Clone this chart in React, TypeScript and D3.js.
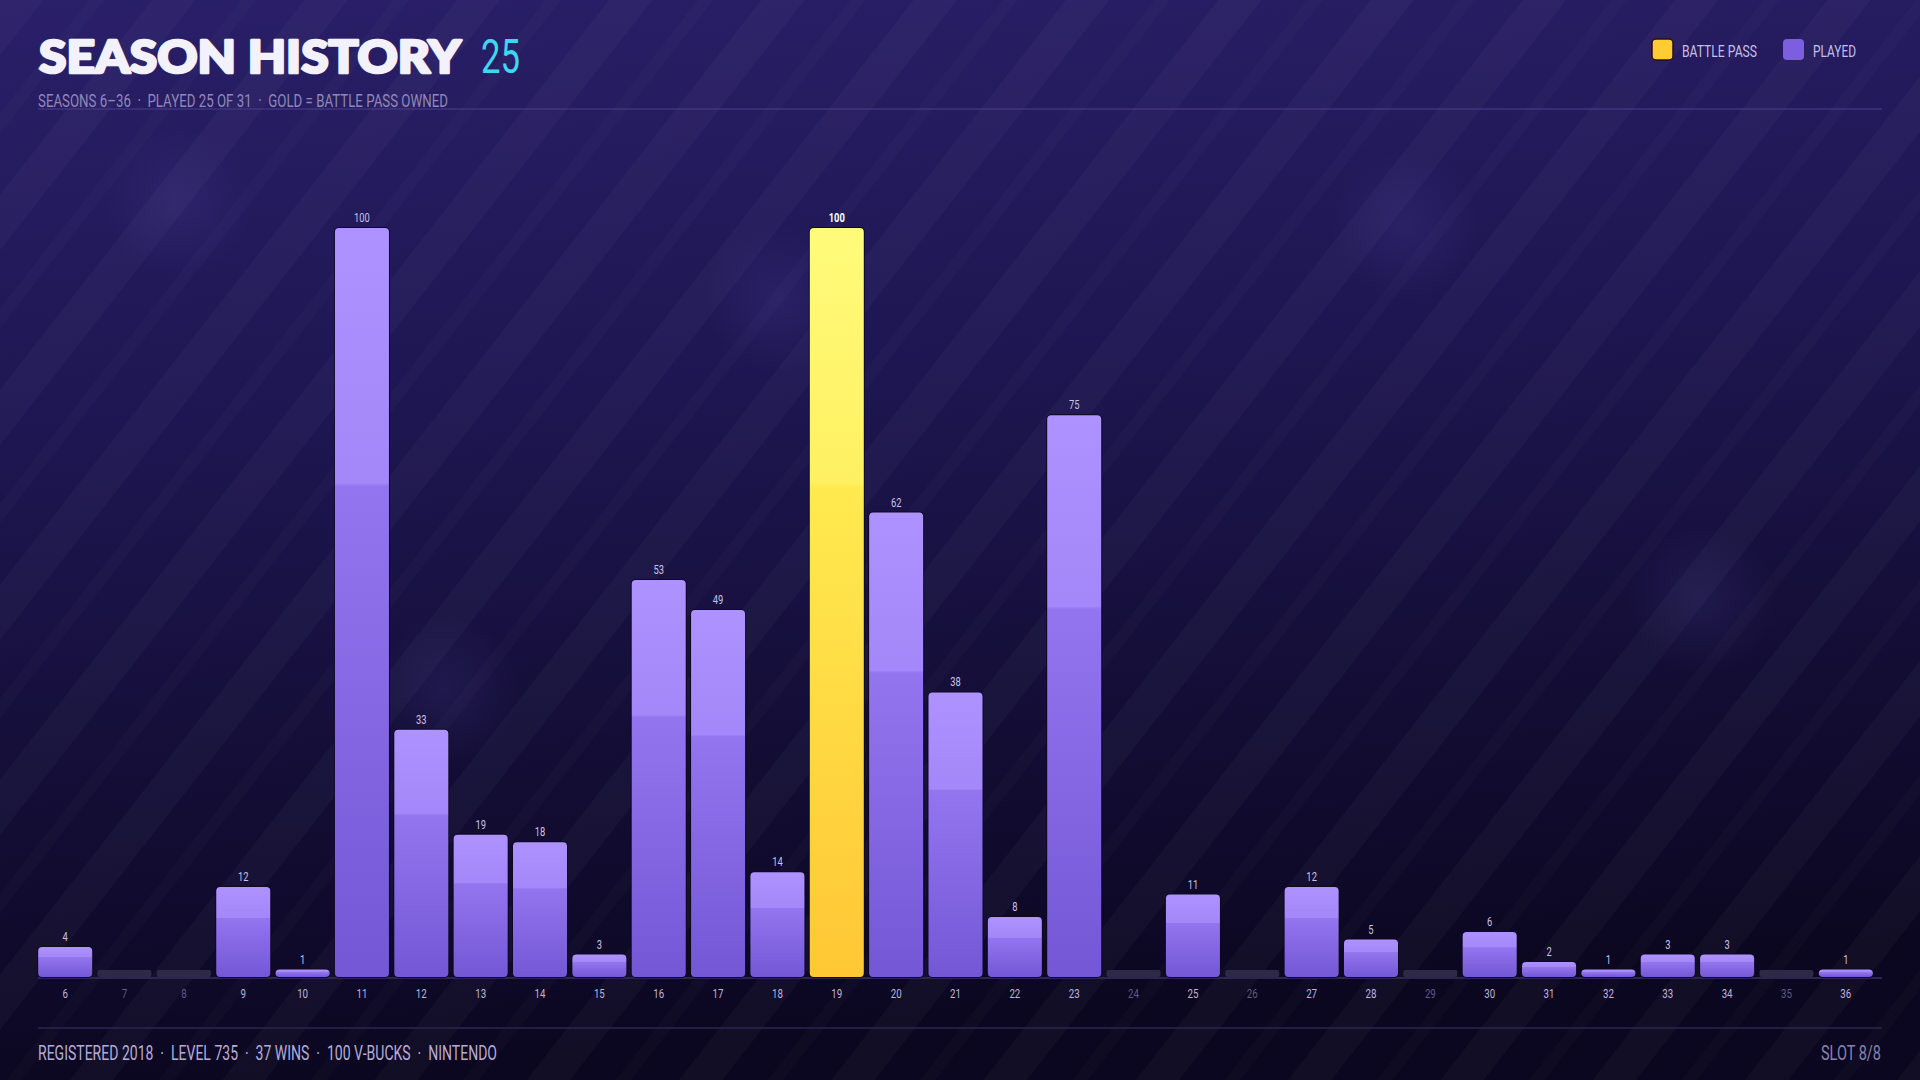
import React, { useEffect, useRef } from 'react';
import * as d3 from 'd3';

const seasons = [6, 7, 8, 9, 10, 11, 12, 13, 14, 15, 16, 17, 18, 19, 20, 21, 22, 23, 24, 25, 26, 27, 28, 29, 30, 31, 32, 33, 34, 35, 36];
const tiers = [4, 0, 0, 12, 1, 100, 33, 19, 18, 3, 53, 49, 14, 100, 62, 38, 8, 75, 0, 11, 0, 12, 5, 0, 6, 2, 1, 3, 3, 0, 1];
const battlePassSeasons = [19];
const legendLabels = ['BATTLE PASS', 'PLAYED'];
const headerStats = ['SEASONS 6–36', 'PLAYED 25 OF 31', 'GOLD = BATTLE PASS OWNED'];
const footerStats = ['REGISTERED 2018', 'LEVEL 735', '37 WINS', '100 V-BUCKS', 'NINTENDO'];

const W = 1920;
const H = 1080;
const COND = 'Roboto, "DejaVu Sans", sans-serif';

export default function App() {
  const ref = useRef<SVGSVGElement>(null);

  useEffect(() => {
    const node = ref.current;
    if (!node) return;
    const svg = d3.select(node);
    svg.selectAll('*').remove();

    const defs = svg.append('defs');
    const bg = defs.append('linearGradient').attr('id', 'bg').attr('x1', 0).attr('y1', 0).attr('x2', 0.15).attr('y2', 1);
    [[0, '#2a1f69'], [0.4, '#1e1651'], [0.75, '#130d34'], [1, '#0b0720']].forEach(([o, c]) =>
      bg.append('stop').attr('offset', o).attr('stop-color', c)
    );
    const stripes = defs.append('pattern').attr('id', 'stripes').attr('patternUnits', 'userSpaceOnUse')
      .attr('width', 120).attr('height', 120).attr('patternTransform', 'rotate(38)');
    stripes.append('rect').attr('x', 0).attr('width', 34).attr('height', 120).attr('fill', '#fff').attr('opacity', 0.026);
    stripes.append('rect').attr('x', 70).attr('width', 12).attr('height', 120).attr('fill', '#fff').attr('opacity', 0.014);

    const blob = defs.append('radialGradient').attr('id', 'blob');
    blob.append('stop').attr('offset', 0).attr('stop-color', '#8a7cff').attr('stop-opacity', 0.09);
    blob.append('stop').attr('offset', 1).attr('stop-color', '#8a7cff').attr('stop-opacity', 0);

    const purple = defs.append('linearGradient').attr('id', 'barPurple').attr('x1', 0).attr('y1', 0).attr('x2', 0).attr('y2', 1);
    [[0, '#ae92ff'], [0.34, '#a487f8'], [0.345, '#9475f0'], [1, '#7357d4']].forEach(([o, c]) =>
      purple.append('stop').attr('offset', o).attr('stop-color', c)
    );
    const gold = defs.append('linearGradient').attr('id', 'barGold').attr('x1', 0).attr('y1', 0).attr('x2', 0).attr('y2', 1);
    [[0, '#fffb7a'], [0.34, '#fff062'], [0.345, '#ffea50'], [1, '#ffc734']].forEach(([o, c]) =>
      gold.append('stop').attr('offset', o).attr('stop-color', c)
    );

    // background
    svg.append('rect').attr('width', W).attr('height', H).attr('fill', 'url(#bg)');
    svg.append('rect').attr('width', W).attr('height', H).attr('fill', 'url(#stripes)');
    [[178, 202], [778, 300], [1405, 226], [1702, 600], [445, 690]].forEach(([cx, cy]) =>
      svg.append('circle').attr('cx', cx).attr('cy', cy).attr('r', 75).attr('fill', 'url(#blob)')
    );

    // header
    svg.append('text').attr('x', 39).attr('y', 73)
      .attr('font-family', 'Lato, "DejaVu Sans", sans-serif').attr('font-weight', 900)
      .attr('font-size', 45).attr('fill', '#f3f1fb')
      .attr('stroke', '#f3f1fb').attr('stroke-width', 2.6).attr('stroke-linejoin', 'round')
      .attr('textLength', 422).attr('lengthAdjust', 'spacingAndGlyphs')
      .text('SEASON HISTORY');
    svg.append('text').attr('x', 481).attr('y', 73)
      .attr('font-family', COND).attr('font-size', 48).attr('fill', '#3fd6ef')
      .attr('textLength', 39).attr('lengthAdjust', 'spacingAndGlyphs')
      .text(String(d3.sum(tiers, (d) => (d > 0 ? 1 : 0))));
    svg.append('text').attr('x', 38).attr('y', 107)
      .attr('font-family', COND).attr('font-size', 18).attr('fill', '#8f87ba')
      .attr('textLength', 410).attr('lengthAdjust', 'spacingAndGlyphs').attr('xml:space', 'preserve')
      .text(headerStats.join('  ·  '));
    svg.append('line').attr('x1', 38).attr('x2', 1882).attr('y1', 109).attr('y2', 109)
      .attr('stroke', '#4a3f8a').attr('stroke-opacity', 0.7).attr('stroke-width', 1.5);

    // legend
    const legendX = [1652, 1783];
    const legendW = [75, 43];
    const legendFill = ['#ffcc33', '#7b5fe0'];
    legendLabels.forEach((label, i) => {
      svg.append('rect').attr('x', legendX[i]).attr('y', 39).attr('width', 21).attr('height', 21).attr('rx', 4)
        .attr('fill', legendFill[i]).attr('stroke', i === 0 ? '#2a0f1a' : 'none').attr('stroke-width', 1.5);
      svg.append('text').attr('x', legendX[i] + 30).attr('y', 57)
        .attr('font-family', COND).attr('font-size', 17).attr('fill', '#c7c0e6')
        .attr('textLength', legendW[i]).attr('lengthAdjust', 'spacingAndGlyphs')
        .text(label);
    });

    // chart
    const base = 977;
    const x = d3.scaleBand<number>().domain(seasons).range([35.5, 1875.5]).paddingInner(0.09).paddingOuter(0.045);
    const y = d3.scaleLinear().domain([0, 100]).range([base, 228]);
    const data = seasons.map((s, i) => ({ s, v: tiers[i], bp: battlePassSeasons.includes(s) }));

    svg.append('line').attr('x1', 38).attr('x2', 1882).attr('y1', base + 1).attr('y2', base + 1)
      .attr('stroke', '#2b2550').attr('stroke-width', 2);

    const g = svg.append('g');
    g.selectAll('rect.stub').data(data.filter((d) => d.v === 0)).join('rect')
      .attr('class', 'stub')
      .attr('x', (d) => x(d.s)!).attr('y', base - 7).attr('width', x.bandwidth()).attr('height', 7).attr('rx', 2)
      .attr('fill', '#2e2946');

    g.selectAll('rect.bar').data(data.filter((d) => d.v > 0)).join('rect')
      .attr('class', 'bar')
      .attr('x', (d) => x(d.s)!).attr('y', (d) => y(d.v))
      .attr('width', x.bandwidth()).attr('height', (d) => base - y(d.v)).attr('rx', 4)
      .attr('fill', (d) => (d.bp ? 'url(#barGold)' : 'url(#barPurple)'))
      .attr('stroke', '#0d0824').attr('stroke-width', 2).attr('paint-order', 'stroke');

    const condText = (sel: d3.Selection<SVGGElement, unknown, null, undefined>, tx: number, ty: number, sx: number) =>
      sel.append('text').attr('transform', `translate(${tx},${ty}) scale(${sx},1)`).attr('text-anchor', 'middle');

    data.filter((d) => d.v > 0).forEach((d) => {
      condText(g, x(d.s)! + x.bandwidth() / 2, y(d.v) - 6, 0.72)
        .attr('font-family', COND).attr('font-size', 13)
        .attr('font-weight', d.bp ? 700 : 400)
        .attr('fill', d.bp ? '#ffffff' : '#c9c1e8')
        .text(d.v);
    });

    data.forEach((d) => {
      condText(g, x(d.s)! + x.bandwidth() / 2, 998, 0.72)
        .attr('font-family', COND).attr('font-size', 13.5)
        .attr('fill', d.v > 0 ? '#bdb5dd' : '#615a86')
        .text(d.s);
    });

    // footer
    svg.append('line').attr('x1', 38).attr('x2', 1882).attr('y1', 1028).attr('y2', 1028)
      .attr('stroke', '#2c2652').attr('stroke-width', 1.5);
    svg.append('text').attr('x', 38).attr('y', 1060)
      .attr('font-family', COND).attr('font-size', 20).attr('fill', '#b4acd6')
      .attr('textLength', 459).attr('lengthAdjust', 'spacingAndGlyphs').attr('xml:space', 'preserve')
      .text(footerStats.join('  ·  '));
    svg.append('text').attr('x', 1881).attr('y', 1060).attr('text-anchor', 'end')
      .attr('font-family', COND).attr('font-size', 20).attr('fill', '#8a82b0')
      .attr('textLength', 60).attr('lengthAdjust', 'spacingAndGlyphs')
      .text('SLOT 8/8');
  }, []);

  return (
    <svg ref={ref} width={W} height={H} style={{ position: 'absolute', left: 0, top: 0, display: 'block' }} />
  );
}
